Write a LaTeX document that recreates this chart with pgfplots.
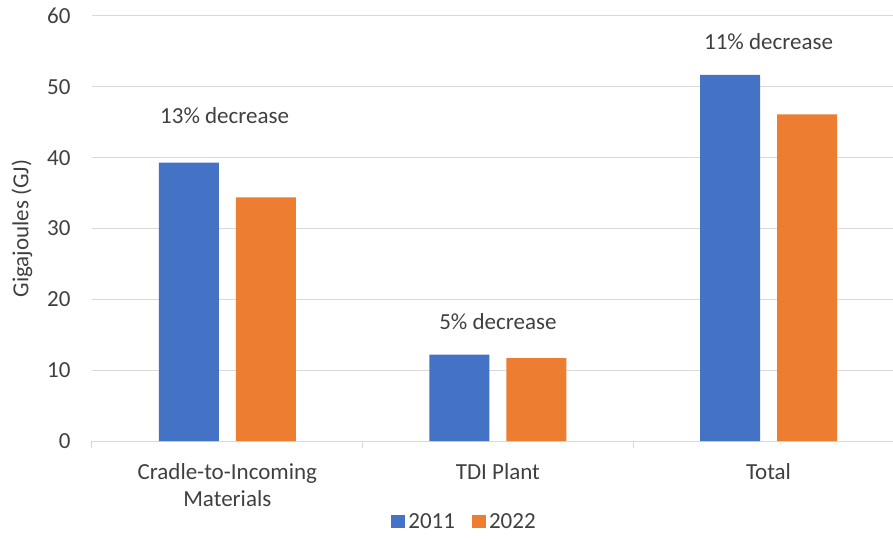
\documentclass[border=0pt]{standalone}
\usepackage{pgfplots}
\pgfplotsset{compat=1.18}
\usepackage{fontspec}
\setmainfont{Carlito}
\definecolor{cblue}{HTML}{4472C4}
\definecolor{corange}{HTML}{ED7D31}
\definecolor{cgrid}{HTML}{D9D9D9}
\definecolor{ctext}{HTML}{404040}
\newcommand{\cf}{\fontsize{23}{27}\selectfont}
\begin{document}
\begin{tikzpicture}
\path[use as bounding box] (-92pt,-97pt) rectangle (801pt,441pt);
\begin{axis}[
  at={(0,0)}, anchor=south west,
  scale only axis,
  width=801pt, height=425pt,
  xmin=-0.5, xmax=2.46, ymin=0, ymax=60,
  ytick={0,10,...,60},
  ymajorgrids, grid style={cgrid, line width=1pt},
  axis x line*=bottom,
  axis y line*=left,
  y axis line style={draw=none},
  x axis line style={cgrid, line width=1pt, -},
  xtick={0,1,2},
  xticklabels={{Cradle-to-Incoming\\Materials},{TDI Plant},{Total}},
  xticklabel style={align=center, text=ctext, font=\cf, yshift=-19pt},
  xtick align=outside,
  major tick length=0pt,
  extra x ticks={-0.5,0.5,1.5},
  extra x tick labels={},
  extra x tick style={major tick length=7pt, tick style={draw=cgrid, line width=1pt}},
  yticklabel style={text=ctext, font=\cf},
  /pgf/number format/assume math mode=true,
  ylabel={Gigajoules (GJ)},
  ylabel style={text=ctext, font=\cf, at={(axis description cs:-0.0874,0.5)}, anchor=center},
  yticklabel shift=18pt,
  ybar,
  bar width=60pt,
  legend style={at={(axis description cs:0.4657,-0.19)}, anchor=center, draw=none, fill=none,
    legend columns=2, font=\cf, text=ctext,
    nodes={inner xsep=3pt},
    /tikz/every even column/.append style={column sep=14pt}},
  legend image code/.code={\fill[#1] (0pt,-6.5pt) rectangle (14pt,6.5pt);},
]
\addplot[fill=cblue, draw=none, bar shift=-38.5pt] coordinates {(0,39.3) (1,12.2) (2,51.7)};
\addplot[fill=corange, draw=none, bar shift=38.5pt] coordinates {(0,34.4) (1,11.7) (2,46.1)};
\legend{2011,2022}
\node[text=ctext, font=\cf] at (axis cs:-0.01,46.0) {13\% decrease};
\node[text=ctext, font=\cf] at (axis cs:1.0,16.8) {5\% decrease};
\node[text=ctext, font=\cf] at (axis cs:2.0,56.4) {11\% decrease};
\end{axis}
\end{tikzpicture}
\end{document}
